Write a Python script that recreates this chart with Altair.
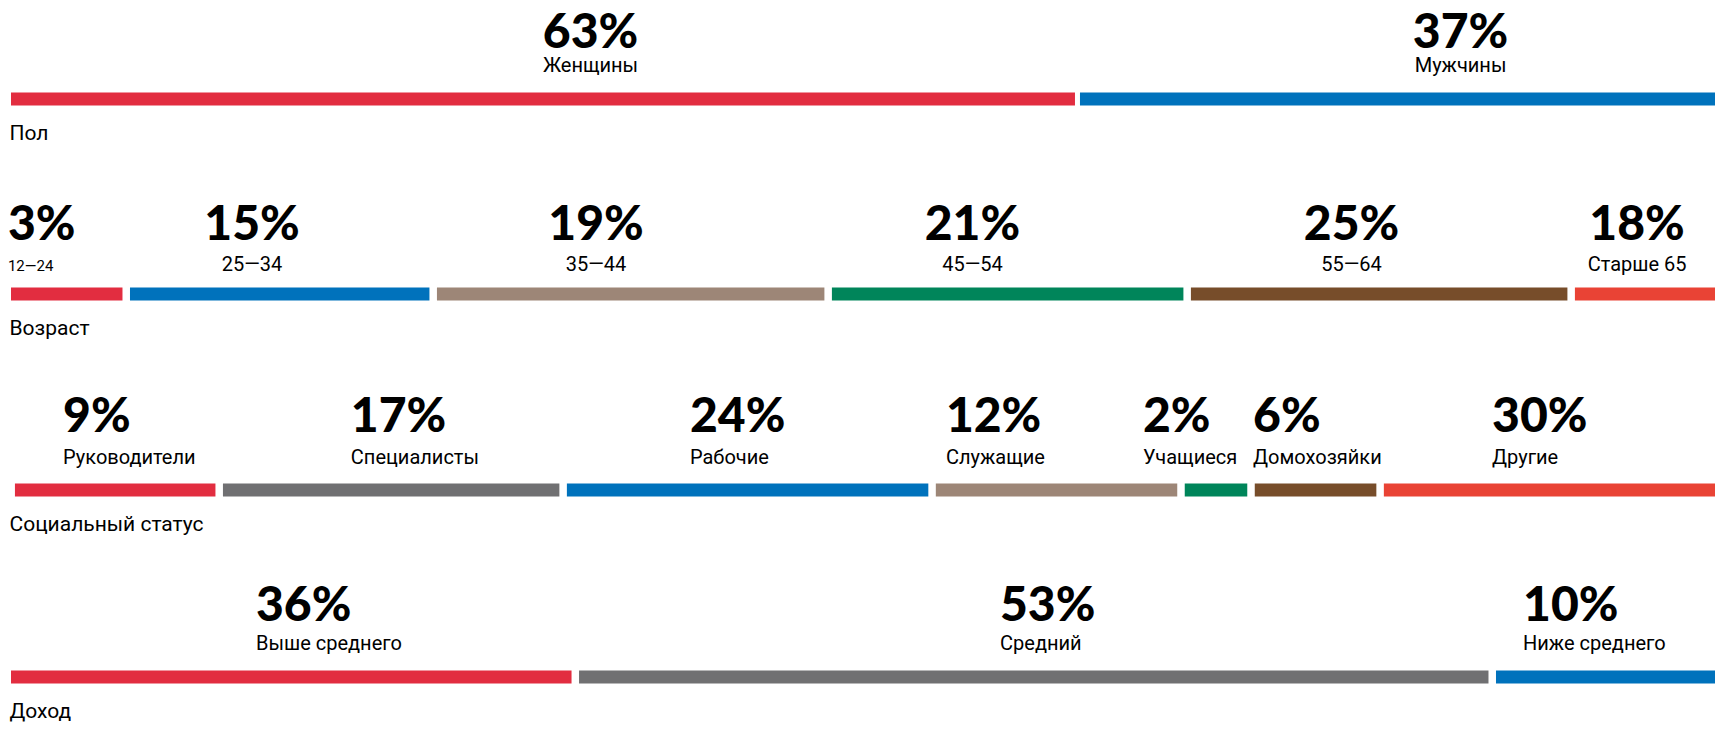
import altair as alt
import pandas as pd

# ---- data ----
row_titles = ["Пол", "Возраст", "Социальный статус", "Доход"]

gender_labels = ["Женщины", "Мужчины"]
gender_pct = [63, 37]
gender_len = [62.44, 37.56]          # drawn length of each bar (% of row)
gender_anchor = [33.85, 84.67]       # label anchor along the row (% of row)

age_labels = ["12—24", "25—34", "35—44", "45—54", "55—64", "Старше 65"]
age_pct = [3, 15, 19, 21, 25, 18]
age_len = [6.95, 17.93, 23.07, 20.97, 22.43, 8.64]
age_anchor = [-0.18, 14.08, 34.17, 56.16, 78.30, 94.98]

status_labels = ["Руководители", "Специалисты", "Рабочие", "Служащие",
                 "Учащиеся", "Домохозяйки", "Другие"]
status_pct = [9, 17, 24, 12, 2, 6, 30]
status_len = [12.15, 20.09, 21.55, 14.54, 4.09, 7.54, 19.80]
status_anchor = [3.04, 19.85, 39.66, 54.61, 66.12, 72.55, 86.51]

income_labels = ["Выше среднего", "Средний", "Ниже среднего"]
income_pct = [36, 53, 10]
income_len = [33.18, 53.56, 13.26]
income_anchor = [14.31, 57.77, 88.32]

# ---- styles / layout ----
RED, BLUE, TAUPE, GREEN, BROWN, ORANGE, GRAY = (
    "#E22D40", "#0072BC", "#9D8677", "#00855A", "#774D2A", "#E94335", "#707072")
row_palettes = [
    [RED, BLUE],
    [RED, BLUE, TAUPE, GREEN, BROWN, ORANGE],
    [RED, GRAY, BLUE, TAUPE, GREEN, BROWN, ORANGE],
    [RED, GRAY, BLUE],
]
row_start = [0.0, 0.0, 0.23, 0.0]
row_pixels = [91, 286, 482, 669]          # vertical layout of the four rows
num_dy = [-51, -54, -58.5, -56.5]
cap_dy = [-27, -23.5, -26.5, -26.7]
bar_gap = [5, 7.5, 7.5, 7.5]

rows = [
    (gender_labels, gender_pct, gender_len, gender_anchor),
    (age_labels, age_pct, age_len, age_anchor),
    (status_labels, status_pct, status_len, status_anchor),
    (income_labels, income_pct, income_len, income_anchor),
]

records = []
for r, (labels, pcts, lens, anchors) in enumerate(rows):
    start = row_start[r]
    for i, (lab, p, ln, an) in enumerate(zip(labels, pcts, lens, anchors)):
        records.append(dict(
            row=r, label=lab, pct=f"{p}%", start=start, end=start + ln,
            anchor=an, color=row_palettes[r][i],
            align="left" if (r >= 2 or (r == 1 and i == 0)) else "center",
        ))
        start += ln
df = pd.DataFrame(records)
titles_df = pd.DataFrame({"row": list(range(len(row_titles))), "title": row_titles})

W, H = 1707, 714
PX_PER_UNIT = 17.12
xscale = alt.Scale(domain=[-3 / PX_PER_UNIT, (W - 3) / PX_PER_UNIT], nice=False, zero=False)
yscale = alt.Scale(domain=[0, 1, 2, 3], range=row_pixels, nice=False, zero=False)

base = alt.Chart(df)
Y = alt.Y("row:Q", scale=yscale, axis=None)
XA = alt.X("anchor:Q", scale=xscale, axis=None)

layers = []
for r in range(len(rows)):
    in_row = base.transform_filter(f"datum.row == {r}")
    layers.append(in_row.mark_rule(strokeWidth=13, strokeCap="butt", x2Offset=-bar_gap[r]).encode(
        x=alt.X("start:Q", scale=xscale, axis=None), x2="end:Q", y=Y,
        color=alt.Color("color:N", scale=None)))
    aligns = sorted(set(rec["align"] for rec in records if rec["row"] == r))
    for al in aligns:
        sub = in_row.transform_filter(f"datum.align == '{al}'")
        layers.append(sub.mark_text(
            align=al, baseline="alphabetic", font="Lato", fontWeight=900,
            fontSize=48, dy=num_dy[r], color="#000000").encode(x=XA, y=Y, text="pct:N"))
        layers.append(sub.mark_text(
            align=al, baseline="alphabetic", font="Roboto",
            dy=cap_dy[r], color="#000000").encode(
            x=XA, y=Y, text="label:N",
            size=alt.condition(alt.datum.label == "12—24", alt.value(15), alt.value(20))))

titles = alt.Chart(titles_df).mark_text(
    align="left", baseline="alphabetic", font="Roboto", fontSize=21,
    dx=-1.5, dy=41, color="#000000"
).encode(x=alt.datum(0, scale=xscale), y=Y, text="title:N")
layers.append(titles)

chart = alt.layer(*layers).properties(
    width=W, height=H,
    autosize=alt.AutoSizeParams(type="none"),
    padding=0,
).configure_view(strokeWidth=0)

chart.save("out.html", embed_options={"renderer": "svg", "actions": False})
